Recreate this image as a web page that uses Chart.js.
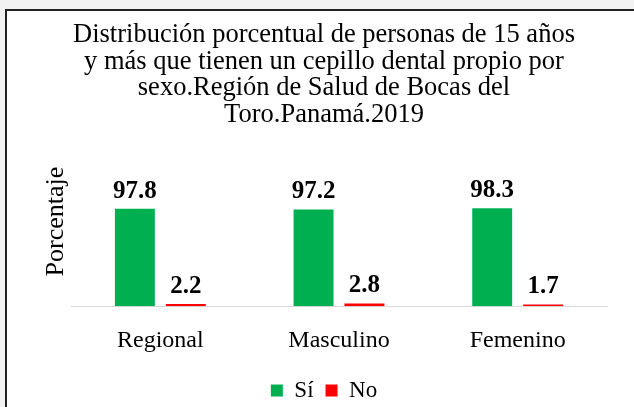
<!DOCTYPE html>
<html>
<head>
<meta charset="utf-8">
<script src="https://cdn.jsdelivr.net/npm/chart.js@4"></script>
<style>
  html, body { margin: 0; padding: 0; background: #f2f2f2; overflow: hidden; }
  #frame { position: absolute; left: 5px; top: 9px; width: 700px; height: 500px;
           background: #fff; border-top: 2px solid #222; border-left: 2px solid #222; }
  #wrap { position: absolute; left: 0; top: 0; width: 634px; height: 407px; }
</style>
</head>
<body>
<div id="frame"></div>
<div id="wrap"><canvas id="chart"></canvas></div>
<script>
const categories = ['Regional', 'Masculino', 'Femenino'];
const siValues = [97.8, 97.2, 98.3];
const noValues = [2.2, 2.8, 1.7];
const titleLines = [
    'Distribución porcentual de personas de 15 años',
    'y más que tienen un cepillo dental propio por',
    'sexo.Región de Salud de Bocas del',
    'Toro.Panamá.2019'
];

const serif = '"Liberation Serif", "Times New Roman", serif';

// value labels above each bar
const valueLabels = {
    id: 'valueLabels',
    afterDatasetsDraw(chart) {
        const ctx = chart.ctx;
        ctx.save();
        ctx.font = 'bold 25px ' + serif;
        ctx.fillStyle = '#000';
        ctx.textAlign = 'center';
        ctx.textBaseline = 'bottom';
        chart.data.datasets.forEach((ds, i) => {
            chart.getDatasetMeta(i).data.forEach((bar, j) => {
                ctx.fillText(ds.data[j].toFixed(1), bar.x, bar.y - 5);
            });
        });
        ctx.restore();
    }
};

new Chart(document.getElementById('chart'), {
    type: 'bar',
    data: {
        labels: categories,
        datasets: [
            { label: 'Sí', data: siValues, backgroundColor: '#00b050' },
            { label: 'No', data: noValues, backgroundColor: '#ff0000' }
        ]
    },
    options: {
        responsive: true,
        maintainAspectRatio: false,
        animation: false,
        categoryPercentage: 0.57,
        barPercentage: 0.784,
        layout: { padding: { left: 41, right: 27, top: 0, bottom: -5 } },
        plugins: {
            title: {
                display: true,
                text: titleLines,
                color: '#000',
                font: { family: serif, size: 26.5, weight: 'normal', lineHeight: 1.0 },
                padding: { top: 22, bottom: 9 }
            },
            legend: {
                position: 'bottom',
                labels: {
                    color: '#000',
                    boxWidth: 12,
                    boxHeight: 12,
                    padding: 12,
                    font: { family: serif, size: 23 }
                }
            },
            tooltip: { enabled: false }
        },
        scales: {
            y: {
                min: 0,
                max: 170,
                ticks: { display: false },
                grid: { display: false },
                border: { display: false },
                title: {
                    display: true,
                    text: 'Porcentaje',
                    color: '#000',
                    font: { family: serif, size: 26 },
                    padding: 0
                },
                afterFit(scale) { scale.width = 30; }
            },
            x: {
                ticks: { color: '#000', font: { family: serif, size: 24 }, padding: 12 },
                grid: { display: false },
                border: { display: true, color: '#d9d9d9', width: 1 }
            }
        }
    },
    plugins: [valueLabels]
});
</script>
</body>
</html>
